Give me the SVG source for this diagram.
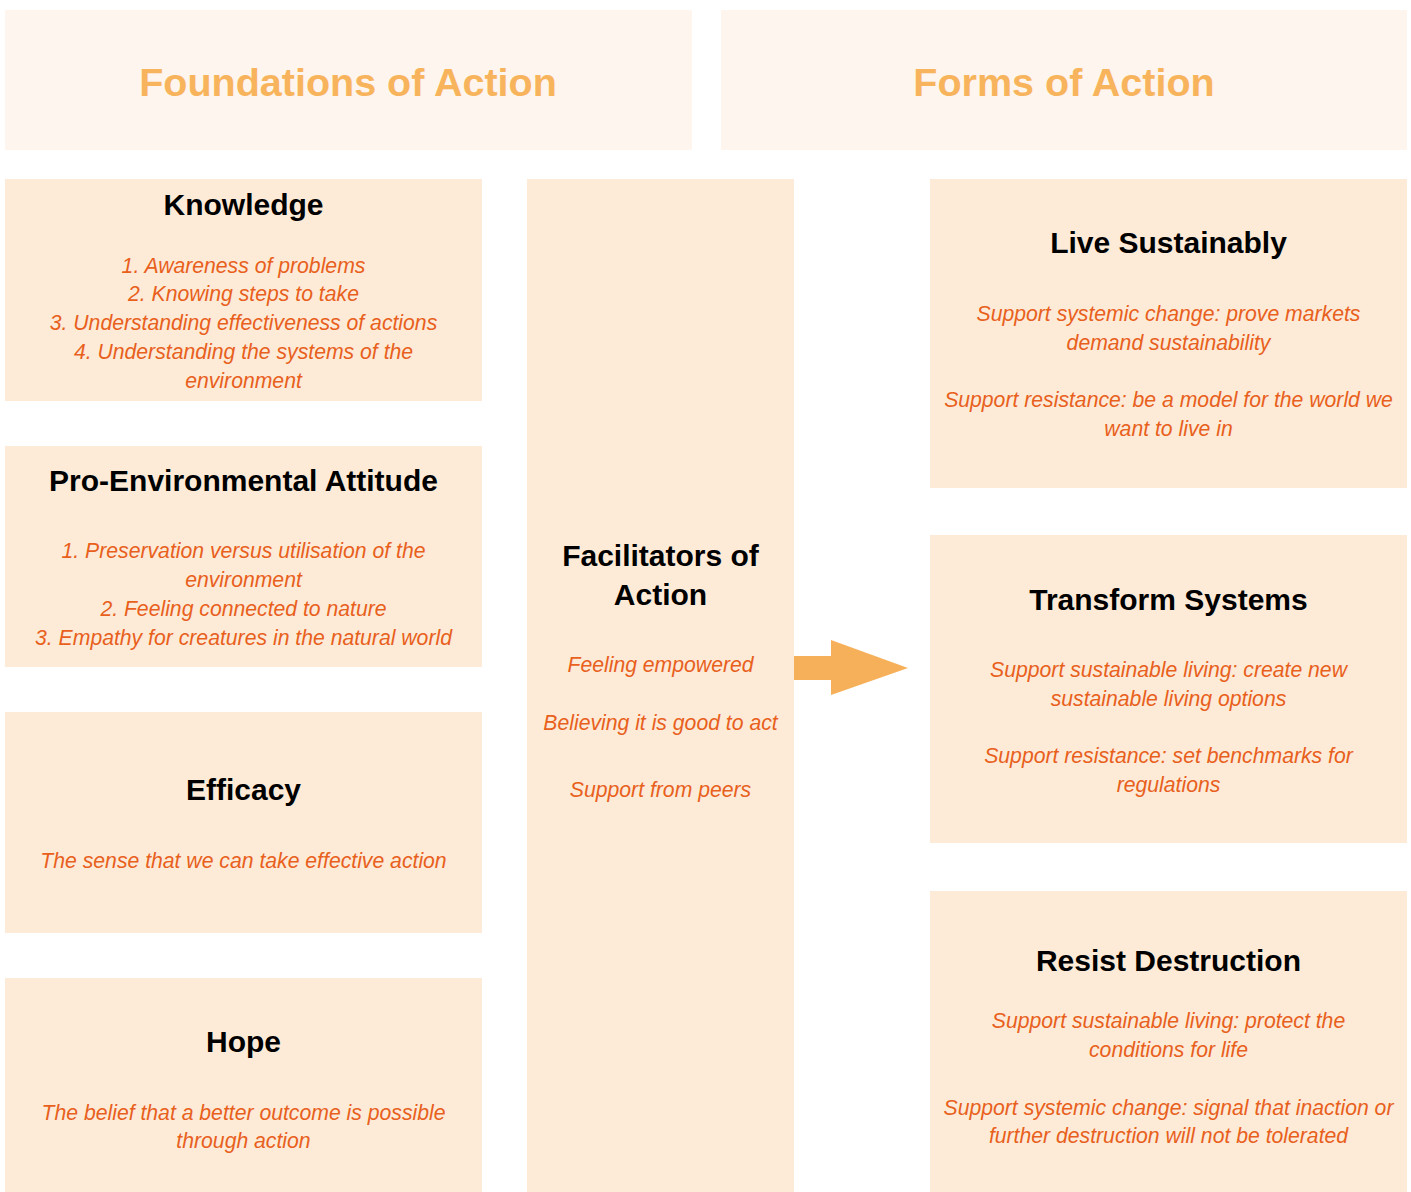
<svg xmlns="http://www.w3.org/2000/svg" width="1411" height="1192" viewBox="0 0 1411 1192">
<style>
.hdr{fill:#fdf5ee}
.box{fill:#fdebd8}
.title{font-family:"Liberation Sans",Arial,sans-serif;font-weight:bold;font-size:39.5px;fill:#f8b45c;text-anchor:middle}
.h{font-family:"Liberation Sans",Arial,sans-serif;font-weight:bold;font-size:30px;fill:#000;text-anchor:middle}
.t{font-family:"Liberation Sans",Arial,sans-serif;font-style:italic;font-size:21.2px;fill:#e8601c;text-anchor:middle}
</style>
<rect width="1411" height="1192" fill="#fff"/>
<g id="header-foundations">
<rect class="hdr" x="5" y="10" width="687" height="140"/>
<text class="title" x="348" y="96">Foundations of Action</text>
</g>
<g id="header-forms">
<rect class="hdr" x="721" y="10" width="686" height="140"/>
<text class="title" x="1064" y="96">Forms of Action</text>
</g>
<g id="knowledge">
<rect class="box" x="5" y="179" width="477" height="222"/>
<text class="h" x="243.5" y="215">Knowledge</text>
<text class="t" x="243.5" y="273">1. Awareness of problems</text>
<text class="t" x="243.5" y="301">2. Knowing steps to take</text>
<text class="t" x="243.5" y="330">3. Understanding effectiveness of actions</text>
<text class="t" x="243.5" y="359">4. Understanding the systems of the</text>
<text class="t" x="243.5" y="388">environment</text>
</g>
<g id="attitude">
<rect class="box" x="5" y="446" width="477" height="221"/>
<text class="h" x="243.5" y="491">Pro-Environmental Attitude</text>
<text class="t" x="243.5" y="558">1. Preservation versus utilisation of the</text>
<text class="t" x="243.5" y="587">environment</text>
<text class="t" x="243.5" y="616">2. Feeling connected to nature</text>
<text class="t" x="243.5" y="645">3. Empathy for creatures in the natural world</text>
</g>
<g id="efficacy">
<rect class="box" x="5" y="712" width="477" height="221"/>
<text class="h" x="243.5" y="800">Efficacy</text>
<text class="t" x="243.5" y="868">The sense that we can take effective action</text>
</g>
<g id="hope">
<rect class="box" x="5" y="978" width="477" height="214"/>
<text class="h" x="243.5" y="1052">Hope</text>
<text class="t" x="243.5" y="1120">The belief that a better outcome is possible</text>
<text class="t" x="243.5" y="1148">through action</text>
</g>
<g id="facilitators">
<rect class="box" x="527" y="179" width="267" height="1013"/>
<text class="h" x="660.5" y="566">Facilitators of</text>
<text class="h" x="660.5" y="605">Action</text>
<text class="t" x="660.5" y="672">Feeling empowered</text>
<text class="t" x="660.5" y="730">Believing it is good to act</text>
<text class="t" x="660.5" y="797">Support from peers</text>
</g>
<g id="live">
<rect class="box" x="930" y="179" width="477" height="309"/>
<text class="h" x="1168.5" y="253">Live Sustainably</text>
<text class="t" x="1168.5" y="321">Support systemic change: prove markets</text>
<text class="t" x="1168.5" y="350">demand sustainability</text>
<text class="t" x="1168.5" y="407">Support resistance: be a model for the world we</text>
<text class="t" x="1168.5" y="436">want to live in</text>
</g>
<g id="transform">
<rect class="box" x="930" y="535" width="477" height="308"/>
<text class="h" x="1168.5" y="610">Transform Systems</text>
<text class="t" x="1168.5" y="677">Support sustainable living: create new</text>
<text class="t" x="1168.5" y="706">sustainable living options</text>
<text class="t" x="1168.5" y="763">Support resistance: set benchmarks for</text>
<text class="t" x="1168.5" y="792">regulations</text>
</g>
<g id="resist">
<rect class="box" x="930" y="891" width="477" height="301"/>
<text class="h" x="1168.5" y="971">Resist Destruction</text>
<text class="t" x="1168.5" y="1028">Support sustainable living: protect the</text>
<text class="t" x="1168.5" y="1057">conditions for life</text>
<text class="t" x="1168.5" y="1115">Support systemic change: signal that inaction or</text>
<text class="t" x="1168.5" y="1143">further destruction will not be tolerated</text>
</g>
<g id="connectors">
<polygon points="794,656 831,656 831,640 908,668 831,695 831,680 794,680" fill="#f6b05a"/>
</g>
</svg>
